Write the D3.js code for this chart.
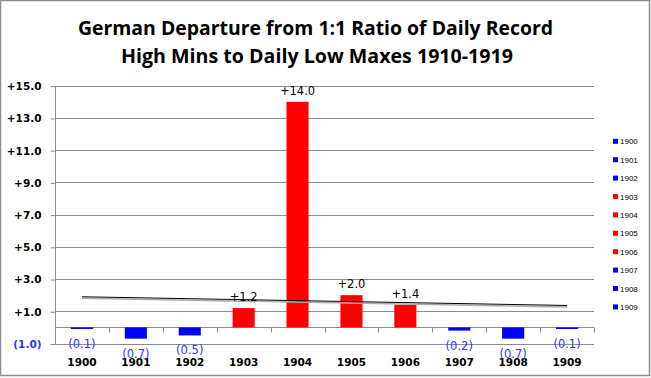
<!DOCTYPE html>
<html><head><meta charset="utf-8">
<script src="https://cdn.jsdelivr.net/npm/d3@7"></script>
<style>body{margin:0;background:#fff}svg{display:block}</style>
</head><body>
<script>
const years = ["1900","1901","1902","1903","1904","1905","1906","1907","1908","1909"];
const values = [-0.1,-0.7,-0.5,1.2,14.0,2.0,1.4,-0.2,-0.7,-0.1];
const yTicks = [-1,1,3,5,7,9,11,13,15];
const titleLines = ["German Departure from 1:1 Ratio of Daily Record","High Mins to Daily Low Maxes 1910-1919"];

const W=651,H=378;
const svg=d3.select("body").append("svg").attr("width",W).attr("height",H);
svg.append("rect").attr("x",0.5).attr("y",0.5).attr("width",649).attr("height",375)
  .attr("fill","#fff").attr("stroke","#8c8c8c").attr("stroke-width",1.5);

const left=55,right=594;
const x=d3.scaleBand().domain(years).range([left,right]).paddingInner(0.59).paddingOuter(0.295);
const y=d3.scaleLinear().domain([-1,15]).range([343.5,85.7]);

// gridlines
svg.append("g").selectAll("line").data(yTicks).join("line")
  .attr("x1",left).attr("x2",right).attr("y1",d=>Math.round(y(d))+0.5).attr("y2",d=>Math.round(y(d))+0.5)
  .attr("stroke","#8c8c8c").attr("stroke-width",1);

// y axis
const fmt=d=>d<0?"("+Math.abs(d).toFixed(1)+")":"+"+d.toFixed(1);
const ya=svg.append("g").attr("transform",`translate(${left+0.5},0.5)`)
  .call(d3.axisLeft(y).tickValues(yTicks).tickFormat(fmt).tickSizeOuter(0).tickSize(5).tickPadding(9));
ya.select(".domain").attr("stroke","#8c8c8c");
ya.selectAll(".tick line").attr("stroke","#8c8c8c");
ya.selectAll(".tick text").attr("font-family","DejaVu Sans, Verdana, sans-serif").attr("font-size","10.5px")
  .attr("font-weight","bold").attr("fill",d=>d<0?"#3333ff":"#000");
ya.select(".domain").attr("d",`M0,${y(-1)}V${y(15)}`);

// x axis at zero
const x0=Math.round(y(0))+0.5;
const xa=svg.append("g").attr("transform",`translate(0,${x0})`);
xa.append("line").attr("x1",left).attr("x2",right).attr("stroke","#8c8c8c");
const step=x.step();
xa.selectAll("line.t").data(d3.range(years.length+1)).join("line").attr("class","t")
  .attr("x1",i=>Math.round(left+i*step)+0.5).attr("x2",i=>Math.round(left+i*step)+0.5)
  .attr("y1",0).attr("y2",5).attr("stroke","#8c8c8c");

// x labels
svg.append("g").selectAll("text").data(years).join("text")
  .attr("x",d=>x(d)+x.bandwidth()/2).attr("y",366).attr("text-anchor","middle")
  .attr("font-family","DejaVu Sans, Verdana, sans-serif").attr("font-size","10.5px").attr("font-weight","bold")
  .attr("fill","#000").text(d=>d);

// bars
svg.append("g").selectAll("rect").data(values).join("rect")
  .attr("x",(d,i)=>x(years[i])).attr("width",x.bandwidth())
  .attr("y",d=>y(Math.max(0,d))).attr("height",d=>Math.abs(y(d)-y(0)))
  .attr("fill",d=>d<0?"#0000ff":"#ff0000");

// trend line (least squares from values)
const n=values.length, xs=d3.range(n);
const mx=d3.mean(xs), my=d3.mean(values);
const slope=d3.sum(xs,i=>(i-mx)*(values[i]-my))/d3.sum(xs,i=>(i-mx)*(i-mx));
const icpt=my-slope*mx;
const cx=i=>x(years[i])+x.bandwidth()/2;
svg.append("line").attr("x1",cx(0)).attr("x2",cx(n-1)).attr("y1",y(icpt)+1.5).attr("y2",y(icpt+slope*(n-1))+1.5)
  .attr("stroke","#aaaaaa").attr("stroke-width",1.5);
svg.append("line").attr("x1",cx(0)).attr("x2",cx(n-1)).attr("y1",y(icpt)).attr("y2",y(icpt+slope*(n-1)))
  .attr("stroke","#000").attr("stroke-width",1);

// data labels
svg.append("g").selectAll("text").data(values).join("text")
  .attr("x",(d,i)=>cx(i)).attr("text-anchor","middle")
  .attr("y",d=>d<0?y(d)+19:y(d)-7)
  .attr("font-family","DejaVu Sans, Verdana, sans-serif").attr("font-size","11.5px")
  .attr("fill",d=>d<0?"#3333ff":"#000")
  .text(d=>d<0?"("+Math.abs(d).toFixed(1)+")":"+"+d.toFixed(1));

// legend
const lg=svg.append("g");
years.forEach((yr,i)=>{
  const ly=141.3+i*18.4;
  lg.append("rect").attr("x",613).attr("y",ly-2.5).attr("width",5).attr("height",5)
    .attr("fill",values[i]<0?"#0000ff":"#ff0000");
  lg.append("text").attr("x",620).attr("y",ly+3).attr("font-family","Liberation Sans, Arial, sans-serif")
    .attr("font-size","8px").attr("fill","#000").text(yr);
});

// title
const tl=[[315.5,35,475],[317,63,392]];
svg.append("g").selectAll("text").data(titleLines).join("text")
  .attr("x",(d,i)=>tl[i][0]).attr("y",(d,i)=>tl[i][1]).attr("text-anchor","middle")
  .attr("font-family","Open Sans, Liberation Sans, sans-serif").attr("font-size","20px").attr("font-weight","bold")
  .attr("textLength",(d,i)=>tl[i][2]).attr("lengthAdjust","spacingAndGlyphs")
  .attr("fill","#000").text(d=>d);
</script>
</body></html>
